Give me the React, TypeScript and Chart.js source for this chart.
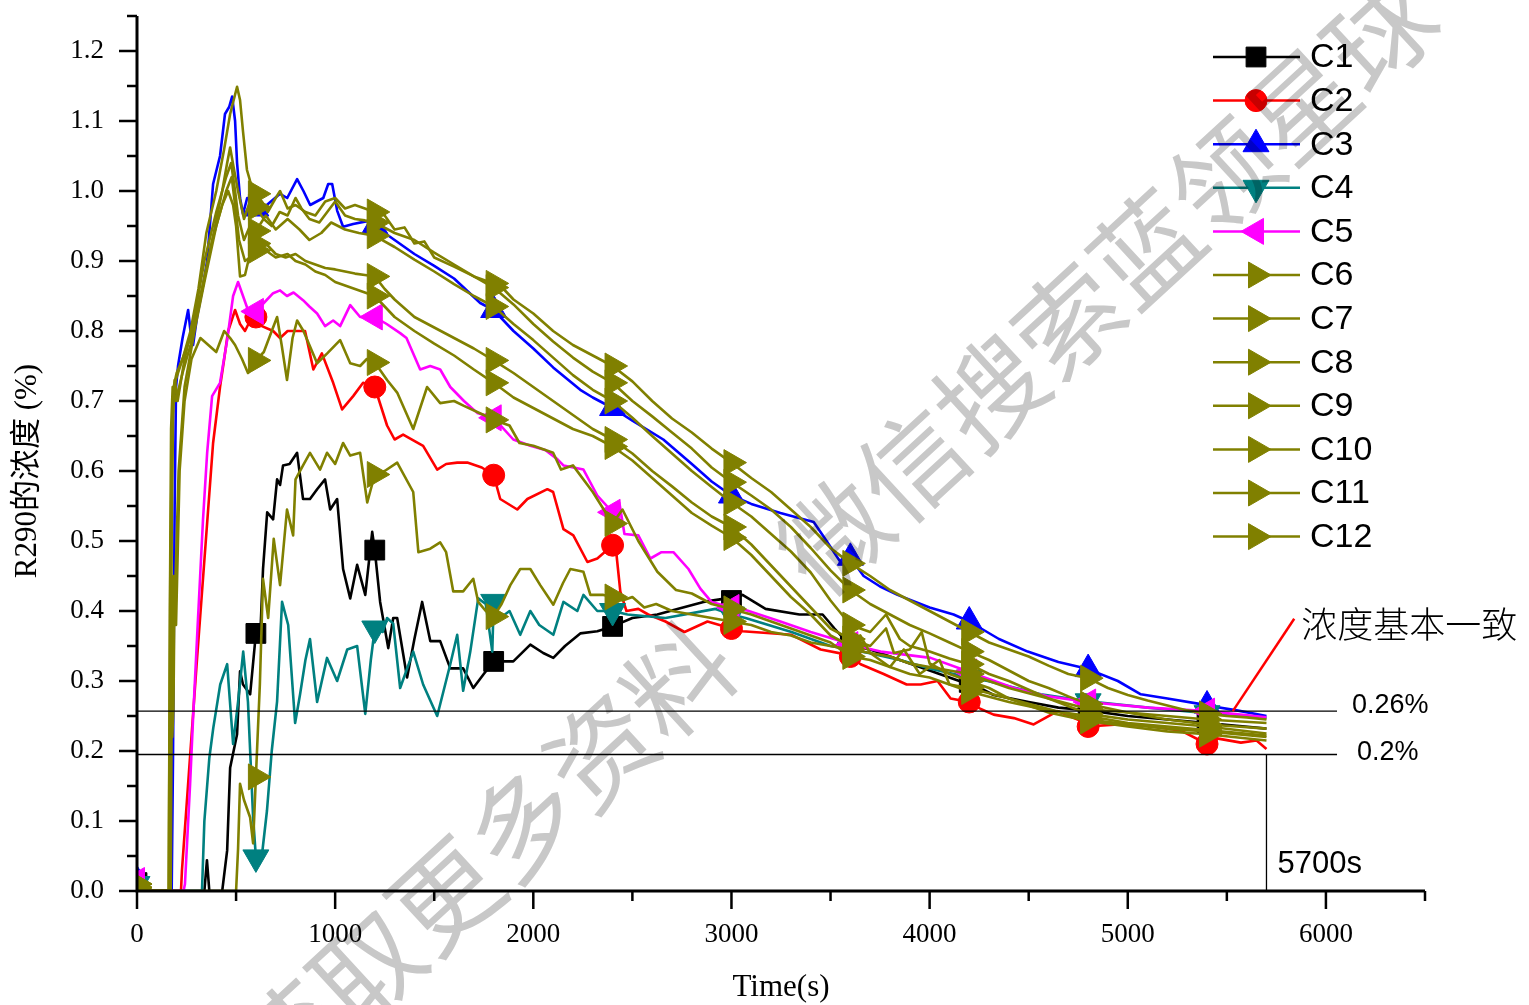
import React, { useEffect, useRef } from 'react';
import { Chart, registerables } from 'chart.js';
import { drawPoint } from 'chart.js/helpers';

Chart.register(...registerables);

type P = [number, number];

const SERIES_NAMES = ['C1', 'C2', 'C3', 'C4', 'C5', 'C6', 'C7', 'C8', 'C9', 'C10', 'C11', 'C12'];

const C1: P[] = [[0,0.012],[50,0],[340,0],[353,0.044],[365,0],[430,0],[455,0.058],[470,0.176],[505,0.224],[520,0.314],[535,0.295],[571,0.281],[600,0.368],[621,0.357],[636,0.46],[657,0.541],[687,0.531],[707,0.588],[722,0.58],[737,0.608],[770,0.61],[808,0.626],[838,0.56],[873,0.56],[909,0.574],[949,0.588],[975,0.545],[1010,0.56],[1040,0.46],[1076,0.418],[1111,0.466],[1152,0.423],[1187,0.513],[1200,0.487],[1227,0.413],[1268,0.347],[1293,0.39],[1313,0.39],[1363,0.305],[1400,0.36],[1439,0.413],[1480,0.357],[1530,0.357],[1581,0.318],[1646,0.318],[1697,0.29],[1750,0.31],[1800,0.328],[1899,0.328],[1985,0.352],[2050,0.34],[2101,0.333],[2160,0.35],[2237,0.368],[2323,0.371],[2400,0.378],[2500,0.39],[2626,0.395],[2727,0.403],[2859,0.413],[2975,0.418],[3000,0.415],[3056,0.423],[3172,0.403],[3343,0.395],[3460,0.395],[3520,0.375],[3600,0.35],[3700,0.345],[3850,0.33],[4000,0.315],[4150,0.3],[4200,0.298],[4323,0.28],[4500,0.27],[4650,0.262],[4800,0.258],[5000,0.25],[5200,0.245],[5400,0.24],[5550,0.236],[5700,0.232]];

const C2: P[] = [[0,0.005],[50,0],[222,0],[227,0.03],[300,0.32],[384,0.64],[419,0.72],[440,0.76],[460,0.8],[495,0.83],[520,0.81],[545,0.8],[571,0.815],[600,0.82],[630,0.807],[687,0.8],[722,0.79],[760,0.8],[808,0.8],[848,0.8],[890,0.745],[933,0.768],[990,0.726],[1035,0.688],[1091,0.707],[1141,0.726],[1200,0.72],[1262,0.665],[1300,0.645],[1343,0.652],[1444,0.636],[1515,0.602],[1560,0.61],[1616,0.612],[1667,0.612],[1740,0.605],[1800,0.594],[1833,0.56],[1919,0.545],[1970,0.56],[2071,0.574],[2100,0.57],[2152,0.517],[2202,0.508],[2273,0.47],[2323,0.475],[2400,0.494],[2420,0.48],[2439,0.428],[2470,0.4],[2530,0.403],[2580,0.395],[2667,0.385],[2763,0.37],[2879,0.385],[3000,0.375],[3056,0.371],[3303,0.366],[3450,0.345],[3576,0.338],[3600,0.335],[3652,0.324],[3768,0.31],[3884,0.295],[3955,0.295],[4040,0.3],[4106,0.275],[4200,0.27],[4258,0.26],[4323,0.252],[4425,0.247],[4525,0.238],[4646,0.257],[4762,0.243],[4800,0.235],[4950,0.238],[5101,0.236],[5268,0.229],[5400,0.21],[5450,0.218],[5571,0.212],[5650,0.215],[5700,0.203]];

const C3: P[] = [[0,0.015],[50,0],[175,0],[182,0.2],[190,0.55],[197,0.72],[207,0.75],[230,0.79],[258,0.83],[270,0.8],[283,0.78],[303,0.82],[330,0.86],[354,0.9],[384,1.01],[419,1.05],[444,1.11],[465,1.12],[480,1.135],[495,1.1],[505,1.04],[520,0.99],[535,0.967],[556,0.99],[571,0.99],[600,0.975],[655,0.98],[722,0.996],[758,0.99],[808,1.017],[840,1.0],[874,0.98],[940,0.99],[965,1.01],[985,1.01],[1010,0.972],[1040,0.949],[1091,0.953],[1162,0.957],[1200,0.95],[1300,0.93],[1400,0.91],[1500,0.893],[1600,0.875],[1732,0.84],[1800,0.83],[1900,0.8],[2000,0.775],[2100,0.748],[2237,0.716],[2300,0.705],[2400,0.69],[2500,0.672],[2656,0.645],[2800,0.61],[2900,0.585],[3000,0.565],[3100,0.553],[3247,0.54],[3415,0.527],[3480,0.5],[3550,0.47],[3600,0.476],[3667,0.45],[3750,0.435],[3838,0.423],[4000,0.405],[4121,0.395],[4200,0.385],[4350,0.36],[4495,0.342],[4650,0.327],[4800,0.317],[4950,0.3],[5066,0.281],[5200,0.275],[5369,0.267],[5400,0.265],[5550,0.258],[5700,0.25]];

const C4: P[] = [[0,0.01],[50,0],[328,0],[340,0.1],[365,0.19],[385,0.233],[420,0.295],[455,0.324],[485,0.21],[510,0.27],[536,0.342],[560,0.27],[586,0.105],[600,0.048],[630,0.05],[656,0.115],[680,0.2],[707,0.271],[732,0.413],[763,0.38],[798,0.24],[823,0.281],[850,0.33],[873,0.36],[909,0.27],[959,0.333],[1010,0.3],[1061,0.345],[1111,0.35],[1152,0.253],[1180,0.33],[1200,0.375],[1240,0.37],[1262,0.39],[1293,0.382],[1328,0.29],[1394,0.342],[1444,0.295],[1515,0.25],[1581,0.324],[1616,0.366],[1646,0.286],[1682,0.342],[1722,0.418],[1760,0.41],[1793,0.342],[1800,0.413],[1833,0.39],[1880,0.4],[1934,0.366],[1985,0.4],[2030,0.38],[2101,0.366],[2152,0.413],[2222,0.4],[2253,0.423],[2323,0.4],[2400,0.4],[2475,0.395],[2667,0.39],[2919,0.403],[3000,0.395],[3071,0.39],[3303,0.37],[3500,0.35],[3600,0.345],[3692,0.34],[3850,0.33],[4000,0.318],[4200,0.305],[4293,0.3],[4561,0.281],[4800,0.271],[5101,0.262],[5400,0.254],[5700,0.247]];

const C5: P[] = [[0,0.015],[50,0],[235,0],[242,0.01],[268,0.153],[283,0.247],[308,0.39],[333,0.53],[354,0.626],[379,0.707],[419,0.726],[455,0.787],[485,0.85],[510,0.87],[535,0.85],[560,0.83],[600,0.828],[640,0.84],[687,0.854],[722,0.858],[757,0.85],[790,0.855],[838,0.844],[870,0.835],[909,0.825],[949,0.807],[990,0.815],[1025,0.807],[1076,0.837],[1126,0.82],[1200,0.82],[1260,0.81],[1328,0.797],[1360,0.79],[1429,0.745],[1480,0.75],[1530,0.745],[1581,0.72],[1650,0.7],[1717,0.683],[1800,0.676],[1899,0.645],[1985,0.636],[2060,0.63],[2121,0.617],[2152,0.608],[2253,0.602],[2323,0.565],[2400,0.541],[2434,0.555],[2460,0.51],[2530,0.508],[2591,0.475],[2647,0.484],[2707,0.484],[2783,0.46],[2843,0.432],[2899,0.413],[3000,0.405],[3056,0.403],[3247,0.385],[3400,0.37],[3550,0.357],[3600,0.352],[3753,0.342],[4005,0.333],[4192,0.314],[4200,0.313],[4425,0.29],[4600,0.278],[4800,0.27],[5101,0.262],[5400,0.257],[5700,0.248]];

const C6: P[] = [[0,0.01],[50,0],[160,0],[168,0.45],[175,0.62],[185,0.72],[200,0.74],[230,0.76],[270,0.8],[310,0.86],[350,0.94],[400,1.0],[440,1.06],[470,1.11],[505,1.149],[520,1.13],[535,1.085],[555,1.03],[571,1.014],[600,0.996],[630,0.985],[660,0.97],[700,0.99],[722,1.0],[760,0.975],[800,0.98],[850,0.97],[900,0.965],[950,0.985],[1000,0.99],[1050,0.975],[1100,0.98],[1150,0.975],[1200,0.97],[1250,0.965],[1300,0.945],[1350,0.948],[1400,0.925],[1450,0.928],[1500,0.905],[1600,0.892],[1700,0.878],[1800,0.868],[1850,0.86],[1900,0.845],[2000,0.825],[2100,0.8],[2200,0.78],[2300,0.765],[2400,0.75],[2500,0.728],[2600,0.7],[2700,0.675],[2800,0.655],[2900,0.632],[3000,0.612],[3100,0.59],[3200,0.57],[3300,0.545],[3400,0.52],[3500,0.49],[3600,0.468],[3700,0.45],[3800,0.43],[3900,0.415],[4000,0.4],[4100,0.385],[4200,0.37],[4300,0.355],[4400,0.345],[4500,0.335],[4600,0.322],[4700,0.31],[4800,0.304],[4900,0.29],[5000,0.28],[5100,0.272],[5200,0.265],[5300,0.258],[5400,0.253],[5500,0.25],[5600,0.248],[5700,0.245]];

const C7: P[] = [[0,0.005],[50,0],[160,0],[166,0.4],[172,0.66],[180,0.72],[195,0.7],[230,0.74],[270,0.78],[320,0.85],[380,0.93],[430,1.0],[455,1.04],[470,1.062],[490,1.03],[510,1.0],[540,0.96],[570,0.985],[600,0.977],[640,0.96],[680,0.95],[720,0.97],[760,0.965],[800,0.99],[830,0.975],[870,0.96],[920,0.955],[960,0.97],[1000,0.985],[1050,0.965],[1100,0.96],[1150,0.958],[1200,0.955],[1300,0.94],[1400,0.93],[1500,0.912],[1600,0.895],[1700,0.878],[1800,0.862],[1900,0.838],[2000,0.81],[2100,0.785],[2200,0.762],[2300,0.742],[2400,0.726],[2500,0.7],[2600,0.678],[2700,0.655],[2800,0.632],[2900,0.605],[3000,0.584],[3100,0.565],[3200,0.545],[3300,0.52],[3400,0.49],[3500,0.458],[3600,0.43],[3700,0.41],[3800,0.395],[3900,0.38],[4000,0.368],[4100,0.355],[4200,0.342],[4300,0.33],[4400,0.315],[4500,0.3],[4600,0.29],[4700,0.278],[4800,0.267],[5000,0.255],[5200,0.245],[5400,0.238],[5550,0.235],[5700,0.232]];

const C8: P[] = [[0,0.005],[50,0],[165,0],[172,0.5],[180,0.68],[190,0.73],[205,0.7],[240,0.76],[290,0.82],[340,0.9],[400,0.97],[450,1.02],[475,1.04],[495,1.0],[510,0.965],[540,0.93],[570,0.95],[600,0.943],[650,0.965],[700,0.945],[760,0.96],[820,0.945],[870,0.93],[930,0.94],[980,0.955],[1050,0.945],[1120,0.94],[1200,0.936],[1300,0.92],[1400,0.902],[1500,0.885],[1600,0.867],[1700,0.85],[1800,0.835],[1900,0.81],[2000,0.787],[2100,0.762],[2200,0.737],[2300,0.716],[2400,0.7],[2500,0.676],[2600,0.65],[2700,0.625],[2800,0.6],[2900,0.577],[3000,0.555],[3100,0.535],[3200,0.51],[3300,0.485],[3400,0.455],[3500,0.415],[3600,0.38],[3700,0.37],[3780,0.395],[3850,0.36],[3900,0.35],[4000,0.342],[4100,0.332],[4200,0.324],[4300,0.31],[4400,0.3],[4600,0.275],[4800,0.253],[5000,0.245],[5200,0.24],[5400,0.235],[5700,0.225]];

const C9: P[] = [[0,0.005],[50,0],[170,0],[176,0.32],[183,0.45],[190,0.4],[210,0.6],[240,0.72],[290,0.8],[340,0.87],[400,0.95],[450,1.0],[478,1.02],[495,0.98],[515,0.93],[545,0.9],[570,0.905],[600,0.915],[650,0.925],[700,0.91],[750,0.905],[800,0.91],[850,0.9],[900,0.895],[950,0.89],[1000,0.888],[1050,0.885],[1100,0.882],[1150,0.88],[1200,0.878],[1250,0.86],[1300,0.845],[1400,0.82],[1500,0.805],[1600,0.79],[1700,0.775],[1800,0.758],[1900,0.74],[2000,0.72],[2100,0.7],[2200,0.68],[2300,0.66],[2400,0.645],[2500,0.625],[2600,0.6],[2700,0.578],[2800,0.555],[2900,0.535],[3000,0.52],[3100,0.495],[3200,0.465],[3300,0.435],[3400,0.405],[3500,0.375],[3600,0.36],[3700,0.35],[3780,0.375],[3820,0.34],[3900,0.345],[3960,0.37],[4000,0.325],[4100,0.31],[4200,0.3],[4300,0.29],[4400,0.275],[4600,0.255],[4800,0.243],[5000,0.235],[5200,0.228],[5400,0.224],[5700,0.215]];

const C10: P[] = [[0,0.005],[50,0],[165,0],[170,0.3],[176,0.55],[183,0.7],[195,0.73],[230,0.76],[280,0.8],[330,0.86],[380,0.93],[430,0.98],[460,1.0],[485,0.98],[500,0.95],[520,0.878],[545,0.88],[570,0.91],[600,0.925],[650,0.915],[700,0.905],[760,0.91],[800,0.9],[850,0.895],[900,0.885],[950,0.88],[1000,0.87],[1050,0.865],[1100,0.86],[1150,0.855],[1200,0.85],[1250,0.835],[1300,0.82],[1400,0.8],[1500,0.782],[1600,0.765],[1700,0.745],[1800,0.726],[1900,0.705],[2000,0.69],[2100,0.675],[2200,0.66],[2300,0.65],[2400,0.635],[2500,0.615],[2600,0.59],[2700,0.565],[2800,0.54],[2900,0.522],[3000,0.505],[3100,0.48],[3200,0.45],[3300,0.42],[3400,0.395],[3500,0.365],[3600,0.35],[3650,0.365],[3700,0.34],[3800,0.32],[3870,0.345],[3950,0.31],[4050,0.33],[4100,0.295],[4200,0.285],[4400,0.27],[4600,0.258],[4800,0.25],[5000,0.24],[5200,0.235],[5400,0.23],[5700,0.222]];

const C11: P[] = [[0,0.01],[50,0],[165,0],[172,0.4],[178,0.22],[184,0.26],[190,0.45],[197,0.38],[215,0.6],[240,0.7],[275,0.76],[320,0.79],[360,0.78],[400,0.77],[440,0.8],[470,0.79],[495,0.78],[530,0.76],[560,0.74],[600,0.758],[640,0.77],[680,0.8],[707,0.82],[730,0.78],[757,0.73],[785,0.79],[808,0.815],[840,0.8],[870,0.78],[909,0.754],[960,0.768],[1025,0.787],[1076,0.754],[1126,0.75],[1160,0.76],[1200,0.755],[1262,0.73],[1313,0.712],[1394,0.66],[1464,0.72],[1530,0.697],[1600,0.7],[1650,0.693],[1750,0.68],[1800,0.673],[1880,0.665],[1930,0.64],[2000,0.636],[2100,0.626],[2140,0.602],[2200,0.608],[2300,0.57],[2400,0.525],[2450,0.545],[2530,0.5],[2626,0.456],[2720,0.43],[2800,0.425],[2900,0.41],[3000,0.403],[3100,0.395],[3200,0.385],[3300,0.375],[3400,0.365],[3500,0.355],[3600,0.335],[3700,0.33],[3800,0.32],[3900,0.31],[4000,0.305],[4100,0.295],[4200,0.29],[4400,0.275],[4600,0.26],[4800,0.245],[5000,0.238],[5200,0.232],[5400,0.228],[5700,0.22]];

const C12: P[] = [[0,0.005],[50,0],[500,0],[510,0.06],[520,0.153],[540,0.13],[571,0.105],[586,0.068],[600,0.163],[620,0.295],[636,0.446],[662,0.39],[690,0.503],[722,0.437],[757,0.545],[788,0.508],[800,0.588],[838,0.608],[873,0.626],[924,0.602],[959,0.626],[1000,0.61],[1040,0.64],[1076,0.622],[1126,0.626],[1162,0.555],[1200,0.595],[1250,0.6],[1313,0.612],[1394,0.57],[1420,0.484],[1480,0.489],[1530,0.498],[1560,0.484],[1596,0.428],[1646,0.428],[1697,0.446],[1722,0.413],[1760,0.4],[1800,0.392],[1840,0.41],[1884,0.437],[1934,0.46],[1985,0.46],[2035,0.437],[2101,0.409],[2150,0.44],[2187,0.46],[2253,0.456],[2288,0.423],[2354,0.423],[2400,0.42],[2450,0.415],[2500,0.42],[2560,0.405],[2620,0.41],[2700,0.4],[2800,0.395],[2900,0.39],[3000,0.385],[3100,0.38],[3200,0.37],[3300,0.365],[3400,0.355],[3500,0.35],[3600,0.345],[3700,0.34],[3800,0.335],[3900,0.325],[4000,0.32],[4100,0.315],[4200,0.31],[4400,0.29],[4600,0.275],[4800,0.26],[5000,0.255],[5200,0.25],[5400,0.245],[5700,0.24]];

const SERIES_DATA: P[][] = [C1, C2, C3, C4, C5, C6, C7, C8, C9, C10, C11, C12];

const X_TICKS = [0, 1000, 2000, 3000, 4000, 5000, 6000];
const X_MINOR = [500, 1500, 2500, 3500, 4500, 5500, 6500];
const Y_TICKS = [0, 0.1, 0.2, 0.3, 0.4, 0.5, 0.6, 0.7, 0.8, 0.9, 1.0, 1.1, 1.2];
const Y_MINOR = [0.05, 0.15, 0.25, 0.35, 0.45, 0.55, 0.65, 0.75, 0.85, 0.95, 1.05, 1.15, 1.25];
const MARKER_EVERY = 600;

const REF_LEVELS = [0.257, 0.195];
const REF_LABELS = ['0.26%', '0.2%'];
const REF_LINE_END = 6056;
const REF_TIME = 5700;
const REF_TIME_LABEL = '5700s';
const ARROW: P[] = [[5530, 0.257], [5840, 0.389]];
const NOTE = '浓度基本一致';
const WATERMARK = '获取更多资料　微信搜索蓝领星球';

const X_TITLE = 'Time(s)';
const Y_TITLE = 'R290的浓度 (%)';

const OLIVE = '#808000';
const COLORS = ['#000000', '#ff0000', '#0000ff', '#008080', '#ff00ff', OLIVE, OLIVE, OLIVE, OLIVE, OLIVE, OLIVE, OLIVE];
const STYLES = ['rect', 'circle', 'triangle', 'triangle', 'triangle', 'triangle', 'triangle', 'triangle', 'triangle', 'triangle', 'triangle', 'triangle'];
const ROTATIONS = [0, 0, 0, 180, 270, 90, 90, 90, 90, 90, 90, 90];
const RADII = [14, 11, 15, 15, 15, 15, 15, 15, 15, 15, 15, 15];

const overlay = {
  id: 'overlay',
  afterDraw(chart: any) {
    const ctx: CanvasRenderingContext2D = chart.ctx;
    const xs = chart.scales.x;
    const ys = chart.scales.y;
    const X = (v: number) => xs.getPixelForValue(v);
    const Y = (v: number) => ys.getPixelForValue(v);
    ctx.save();

    // reference lines
    ctx.strokeStyle = '#000';
    ctx.lineWidth = 1.3;
    REF_LEVELS.forEach((l) => {
      ctx.beginPath();
      ctx.moveTo(X(0), Y(l));
      ctx.lineTo(X(REF_LINE_END), Y(l));
      ctx.stroke();
    });
    ctx.beginPath();
    ctx.moveTo(X(REF_TIME), Y(REF_LEVELS[1]));
    ctx.lineTo(X(REF_TIME), Y(0));
    ctx.stroke();

    // red pointer
    ctx.strokeStyle = '#ff0000';
    ctx.lineWidth = 2.5;
    ctx.beginPath();
    ctx.moveTo(X(ARROW[0][0]), Y(ARROW[0][1]));
    ctx.lineTo(X(ARROW[1][0]), Y(ARROW[1][1]));
    ctx.stroke();

    ctx.fillStyle = '#000';
    ctx.textBaseline = 'middle';
    ctx.textAlign = 'left';
    ctx.font = '27px "Liberation Sans", Arial, sans-serif';
    ctx.fillText(REF_LABELS[0], X(REF_LINE_END) + 15, Y(REF_LEVELS[0]) - 6);
    ctx.fillText(REF_LABELS[1], X(REF_LINE_END) + 20, Y(REF_LEVELS[1]) - 2);
    ctx.font = '31px "Liberation Sans", Arial, sans-serif';
    ctx.fillText(REF_TIME_LABEL, X(REF_TIME) + 11, Y(0) - 27);
    ctx.font = '300 36px "Noto Sans CJK SC", sans-serif';
    ctx.fillText(NOTE, X(ARROW[1][0]) + 7, Y(ARROW[1][1]) + 6);

    // axes
    const x0 = X(0);
    const y0 = Y(0);
    ctx.strokeStyle = '#000';
    ctx.lineWidth = 3;
    ctx.beginPath();
    ctx.moveTo(x0, y0 + 1.5);
    ctx.lineTo(x0, Y(1.25));
    ctx.moveTo(x0 - 1.5, y0);
    ctx.lineTo(X(6500), y0);
    ctx.stroke();
    ctx.lineWidth = 2.5;
    ctx.beginPath();
    Y_TICKS.forEach((v) => { ctx.moveTo(x0, Y(v)); ctx.lineTo(x0 - 18, Y(v)); });
    Y_MINOR.forEach((v) => { ctx.moveTo(x0, Y(v)); ctx.lineTo(x0 - 10, Y(v)); });
    X_TICKS.forEach((v) => { ctx.moveTo(X(v), y0); ctx.lineTo(X(v), y0 + 18); });
    X_MINOR.forEach((v) => { ctx.moveTo(X(v), y0); ctx.lineTo(X(v), y0 + 10); });
    ctx.stroke();

    ctx.font = '27px "Liberation Serif", "Times New Roman", serif';
    ctx.textAlign = 'right';
    Y_TICKS.forEach((v) => ctx.fillText(v.toFixed(1), x0 - 33, Y(v)));
    ctx.textAlign = 'center';
    X_TICKS.forEach((v) => ctx.fillText(String(v), X(v), y0 + 44));

    ctx.font = '31px "Liberation Serif", "Times New Roman", serif';
    ctx.fillText(X_TITLE, (chart.chartArea.left + chart.chartArea.right) / 2, 988);
    ctx.save();
    ctx.translate(28, 471);
    ctx.rotate(-Math.PI / 2);
    ctx.font = '31px "Liberation Serif", "Noto Sans CJK SC", serif';
    ctx.fillText(Y_TITLE, 0, 0);
    ctx.restore();

    // legend
    ctx.font = '34px "Liberation Sans", Arial, sans-serif';
    ctx.textAlign = 'left';
    SERIES_NAMES.forEach((name, i) => {
      const ly = 57 + 43.6 * i;
      ctx.strokeStyle = COLORS[i];
      ctx.lineWidth = 2.5;
      ctx.beginPath();
      ctx.moveTo(1213, ly);
      ctx.lineTo(1300, ly);
      ctx.stroke();
      ctx.fillStyle = COLORS[i];
      ctx.lineWidth = 1;
      drawPoint(ctx, { pointStyle: STYLES[i] as any, rotation: ROTATIONS[i], radius: RADII[i], borderWidth: 1 } as any, 1256, ly);
      ctx.fillStyle = '#000';
      ctx.fillText(name, 1310, ly + 1);
    });

    // watermark
    ctx.globalCompositeOperation = 'multiply';
    ctx.fillStyle = 'rgb(200,200,200)';
    ctx.translate(250, 1075);
    ctx.rotate((-42.7 * Math.PI) / 180);
    ctx.font = '106px "Noto Sans CJK SC", sans-serif';
    ctx.textAlign = 'left';
    ctx.textBaseline = 'middle';
    ctx.fillText(WATERMARK, 0, 0);
    ctx.restore();
  },
};

export default function App() {
  const ref = useRef<HTMLCanvasElement | null>(null);
  useEffect(() => {
    if (!ref.current) return;
    const datasets = SERIES_DATA.map((pts, i) => ({
      label: SERIES_NAMES[i],
      data: pts.map(([x, y]) => ({ x, y })),
      borderColor: COLORS[i],
      backgroundColor: COLORS[i],
      borderWidth: 2.6,
      borderJoinStyle: 'round' as const,
      pointStyle: STYLES[i],
      rotation: ROTATIONS[i],
      pointBorderWidth: 1,
      pointRadius: (c: any) => (c.raw && c.raw.x % MARKER_EVERY === 0 ? RADII[i] : 0),
      pointHoverRadius: 0,
      tension: 0,
      order: SERIES_NAMES.length - i,
    }));
    const chart = new Chart(ref.current, {
      type: 'line',
      data: { datasets } as any,
      options: {
        responsive: false,
        animation: false,
        devicePixelRatio: 1,
        events: [],
        layout: { padding: { left: 137, right: 104, top: 11.5, bottom: 114 } },
        plugins: { legend: { display: false }, tooltip: { enabled: false } },
        scales: {
          x: { type: 'linear', min: 0, max: 6500, display: false },
          y: { type: 'linear', min: 0, max: 1.25, display: false },
        },
      } as any,
      plugins: [overlay],
    });
    return () => chart.destroy();
  }, []);
  return (
    <div style={{ position: 'fixed', left: 0, top: 0, width: 1529, height: 1005, background: '#fff' }}>
      <canvas ref={ref} width={1529} height={1005} style={{ display: 'block' }} />
    </div>
  );
}
